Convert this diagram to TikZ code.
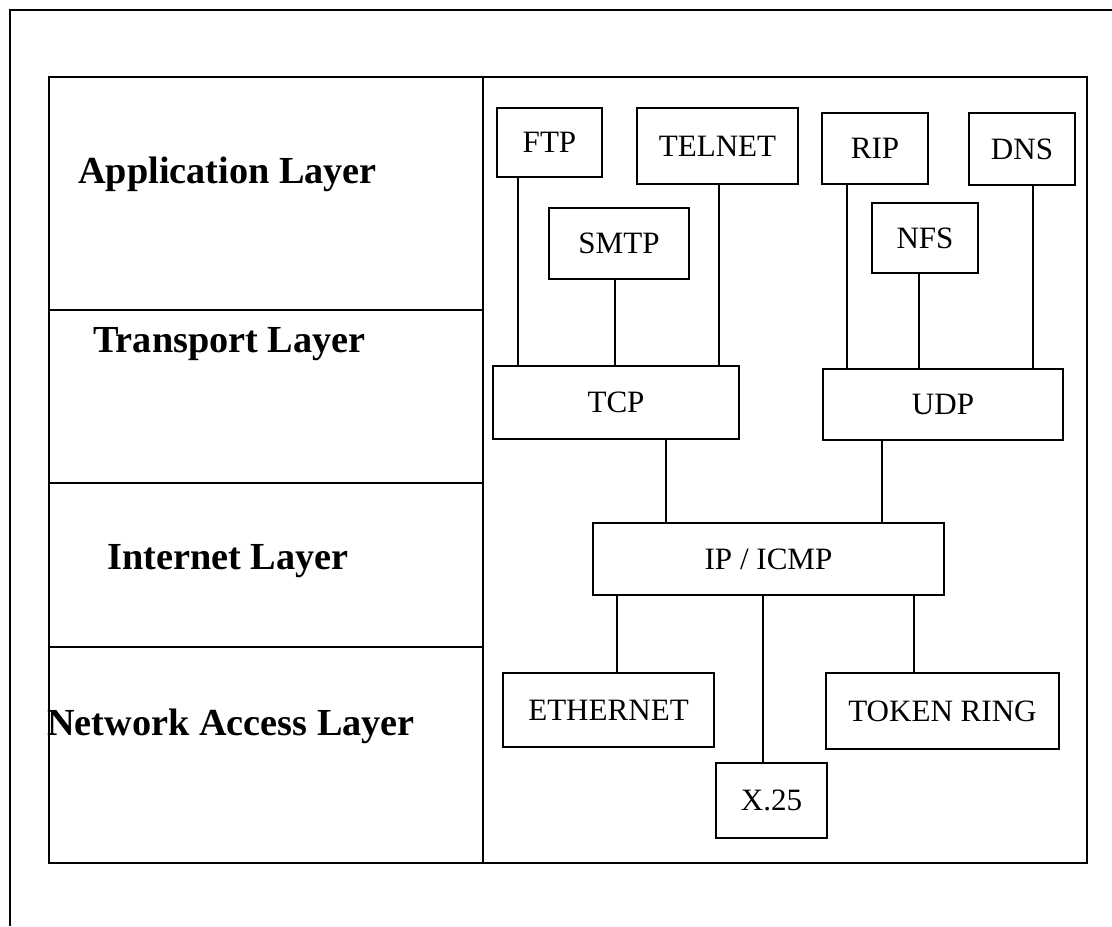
\documentclass[tikz,border=0pt]{standalone}
\usepackage{fontspec}
\setmainfont{Liberation Serif}
\begin{document}
\begin{tikzpicture}[x=0.75pt,y=-0.75pt,
  frame/.style={line width=2pt},
  proto/.style 2 args={draw, line width=1.8pt, inner sep=0pt,
    minimum width=#1*0.75pt, minimum height=#2*0.75pt,
    font=\fontsize{23.3}{27}\selectfont},
  link/.style={line width=1.6pt},
  layer/.style={anchor=west, inner sep=0pt,
    font=\fontsize{28.7}{33}\selectfont\bfseries}]
\useasboundingbox (0,0) rectangle (1112,926);

% outer open frame
\draw[frame] (1112,10) -- (10,10) -- (10,926);
% inner table
\draw[frame] (49,77) rectangle (1087,863);
\draw[frame] (483,77) -- (483,863);
\draw[frame] (49,310) -- (483,310);
\draw[frame] (49,483) -- (483,483);
\draw[frame] (49,647) -- (483,647);

% layer names
\node[layer] (lapp) at (78,174) {Application Layer};
\node[layer] (ltra) at (93,344) {Transport Layer};
\node[layer] (lint) at (107,561) {Internet Layer};
\node[layer] (lnet) at (47,726) {Network Access Layer};

% protocol boxes
\node[proto={105}{69}] (ftp) at (549.5,142.5) {FTP};
\node[proto={161}{76}] (telnet) at (717.5,146) {TELNET};
\node[proto={140}{71}] (smtp) at (619,243.5) {SMTP};
\node[proto={106}{71}] (rip) at (875,148.5) {RIP};
\node[proto={106}{72}] (dns) at (1022,149) {DNS};
\node[proto={106}{70}] (nfs) at (925,238) {NFS};
\node[proto={246}{73}] (tcp) at (616,402.5) {TCP};
\node[proto={240}{71}] (udp) at (943,404.5) {UDP};
\node[proto={351}{72}] (ip) at (768.5,559) {IP / ICMP};
\node[proto={211}{74}] (eth) at (608.5,710) {ETHERNET};
\node[proto={111}{75}] (x25) at (771.5,800.5) {X.25};
\node[proto={233}{76}] (tr) at (942.5,711) {TOKEN RING};

% x positions of the vertical links
\coordinate (kftp) at (518,0);
\coordinate (ksmtp) at (615,0);
\coordinate (ktel) at (719,0);
\coordinate (krip) at (847,0);
\coordinate (knfs) at (919,0);
\coordinate (kdns) at (1033,0);
\coordinate (ktcp) at (666,0);
\coordinate (kudp) at (882,0);
\coordinate (keth) at (617,0);
\coordinate (kx) at (763,0);
\coordinate (ktr) at (914,0);

\draw[link] (ftp.south -| kftp) -- (tcp.north -| kftp);
\draw[link] (smtp.south -| ksmtp) -- (tcp.north -| ksmtp);
\draw[link] (telnet.south -| ktel) -- (tcp.north -| ktel);
\draw[link] (rip.south -| krip) -- (udp.north -| krip);
\draw[link] (nfs.south -| knfs) -- (udp.north -| knfs);
\draw[link] (dns.south -| kdns) -- (udp.north -| kdns);
\draw[link] (tcp.south -| ktcp) -- (ip.north -| ktcp);
\draw[link] (udp.south -| kudp) -- (ip.north -| kudp);
\draw[link] (ip.south -| keth) -- (eth.north -| keth);
\draw[link] (ip.south -| kx) -- (x25.north -| kx);
\draw[link] (ip.south -| ktr) -- (tr.north -| ktr);
\end{tikzpicture}
\end{document}
